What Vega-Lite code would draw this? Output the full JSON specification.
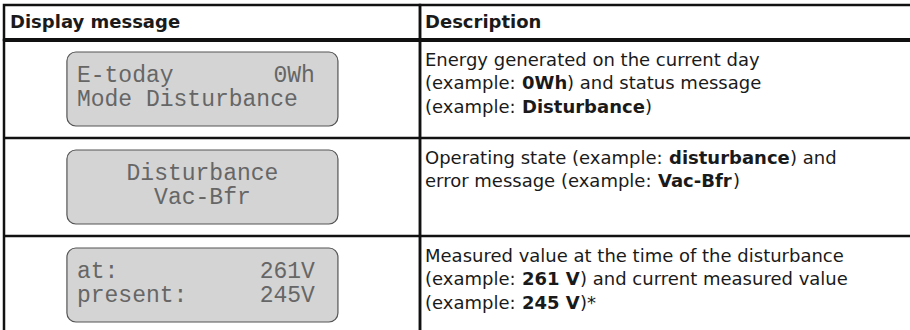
{
  "$schema": "https://vega.github.io/schema/vega-lite/v6.json",
  "background": "white",
  "padding": {"left": 0, "top": 3, "right": 0, "bottom": 0},
  "spacing": 0,
  "bounds": "flush",
  "align": "each",
  "columns": 2,
  "config": {
    "view": {"stroke": "#111111", "strokeWidth": 2.5},
    "text": {"font": "DejaVu Sans", "fontSize": 18, "color": "#1a1a1a"}
  },
  "datasets": {
    "headings": [{"column": "Display message"}, {"column": "Description"}],
    "rows": [{"row": 1}, {"row": 2}, {"row": 3}],
    "display": [
      {"row": 1, "line": 1, "part": "left", "text": "E-today"},
      {"row": 1, "line": 1, "part": "right", "text": "0Wh"},
      {"row": 1, "line": 2, "part": "left", "text": "Mode Disturbance"},
      {"row": 2, "line": 1, "part": "center", "text": "Disturbance"},
      {"row": 2, "line": 2, "part": "center", "text": "Vac-Bfr"},
      {"row": 3, "line": 1, "part": "left", "text": "at:"},
      {"row": 3, "line": 1, "part": "right", "text": "261V"},
      {"row": 3, "line": 2, "part": "left", "text": "present:"},
      {"row": 3, "line": 2, "part": "right", "text": "245V"}
    ],
    "description": [
      {"row": 1, "line": 1, "start": 5, "text": "Energy generated on the current day", "emphasis": false},
      {"row": 1, "line": 2, "start": 5, "text": "(example: ", "emphasis": false},
      {"row": 1, "line": 2, "start": 102, "text": "0Wh", "emphasis": true},
      {"row": 1, "line": 2, "start": 147, "text": ") and status message", "emphasis": false},
      {"row": 1, "line": 3, "start": 5, "text": "(example: ", "emphasis": false},
      {"row": 1, "line": 3, "start": 102, "text": "Disturbance", "emphasis": true},
      {"row": 1, "line": 3, "start": 225, "text": ")", "emphasis": false},
      {"row": 2, "line": 1, "start": 5, "text": "Operating state (example: ", "emphasis": false},
      {"row": 2, "line": 1, "start": 249, "text": "disturbance", "emphasis": true},
      {"row": 2, "line": 1, "start": 370, "text": ") and", "emphasis": false},
      {"row": 2, "line": 2, "start": 5, "text": "error message (example: ", "emphasis": false},
      {"row": 2, "line": 2, "start": 238, "text": "Vac-Bfr", "emphasis": true},
      {"row": 2, "line": 2, "start": 313, "text": ")", "emphasis": false},
      {"row": 3, "line": 1, "start": 5, "text": "Measured value at the time of the disturbance", "emphasis": false},
      {"row": 3, "line": 2, "start": 5, "text": "(example: ", "emphasis": false},
      {"row": 3, "line": 2, "start": 102, "text": "261 V", "emphasis": true},
      {"row": 3, "line": 2, "start": 160, "text": ") and current measured value", "emphasis": false},
      {"row": 3, "line": 3, "start": 5, "text": "(example: ", "emphasis": false},
      {"row": 3, "line": 3, "start": 102, "text": "245 V", "emphasis": true},
      {"row": 3, "line": 3, "start": 160, "text": ")*", "emphasis": false}
    ]
  },
  "concat": [
    {
      "width": 416, "height": 35,
      "data": {"name": "headings"},
      "transform": [{"filter": "datum.column === 'Display message'"}],
      "layer": [
        {
          "mark": {"type": "text", "align": "left", "baseline": "middle", "fontWeight": "bold", "dx": 6},
          "encoding": {
            "x": {"field": "column", "type": "nominal", "bandPosition": 0, "axis": null, "scale": {"type": "band", "paddingInner": 0, "paddingOuter": 0}},
            "y": {"field": "column", "type": "nominal", "axis": null, "scale": {"type": "band", "paddingInner": 0, "paddingOuter": 0}},
            "text": {"field": "column"}
          }
        },
        {
          "mark": {"type": "rule", "strokeWidth": 4, "color": "#111111"},
          "encoding": {
            "y": {"field": "column", "type": "nominal", "bandPosition": 1, "axis": null, "scale": {"type": "band", "paddingInner": 0, "paddingOuter": 0}}
          }
        }
      ]
    },
    {
      "width": 492, "height": 35,
      "data": {"name": "headings"},
      "transform": [{"filter": "datum.column === 'Description'"}],
      "layer": [
        {
          "mark": {"type": "text", "align": "left", "baseline": "middle", "fontWeight": "bold", "dx": 5},
          "encoding": {
            "x": {"field": "column", "type": "nominal", "bandPosition": 0, "axis": null, "scale": {"type": "band", "paddingInner": 0, "paddingOuter": 0}},
            "y": {"field": "column", "type": "nominal", "axis": null, "scale": {"type": "band", "paddingInner": 0, "paddingOuter": 0}},
            "text": {"field": "column"}
          }
        },
        {
          "mark": {"type": "rule", "strokeWidth": 4, "color": "#111111"},
          "encoding": {
            "y": {"field": "column", "type": "nominal", "bandPosition": 1, "axis": null, "scale": {"type": "band", "paddingInner": 0, "paddingOuter": 0}}
          }
        }
      ]
    },
    {
      "width": 416, "height": 294,
      "encoding": {
        "y": {"field": "row", "type": "ordinal", "axis": null, "scale": {"type": "band", "paddingInner": 0, "paddingOuter": 0}}
      },
      "layer": [
        {
          "data": {"name": "rows"},
          "mark": {"type": "rect", "fill": "#d4d4d4", "stroke": "#555555", "strokeWidth": 1.2, "cornerRadius": 9, "height": {"band": 0.755}},
          "encoding": {
            "x": {"datum": "display", "type": "nominal", "axis": null, "scale": {"type": "band", "paddingInner": 0, "paddingOuter": 0.2675, "align": 0.434}}
          }
        },
        {
          "data": {"name": "display"},
          "transform": [{"filter": "datum.part === 'left' && datum.line === 1"}],
          "mark": {"type": "text", "font": "Liberation Mono", "fontSize": 23, "color": "#666666", "align": "left", "baseline": "middle", "dx": 10},
          "encoding": {
            "x": {"datum": "display", "type": "nominal", "bandPosition": 0, "axis": null},
            "y": {"field": "row", "type": "ordinal", "bandPosition": 0.36, "axis": null},
            "text": {"field": "text"}
          }
        },
        {
          "data": {"name": "display"},
          "transform": [{"filter": "datum.part === 'left' && datum.line === 2"}],
          "mark": {"type": "text", "font": "Liberation Mono", "fontSize": 23, "color": "#666666", "align": "left", "baseline": "middle", "dx": 10},
          "encoding": {
            "x": {"datum": "display", "type": "nominal", "bandPosition": 0, "axis": null},
            "y": {"field": "row", "type": "ordinal", "bandPosition": 0.6, "axis": null},
            "text": {"field": "text"}
          }
        },
        {
          "data": {"name": "display"},
          "transform": [{"filter": "datum.part === 'right' && datum.line === 1"}],
          "mark": {"type": "text", "font": "Liberation Mono", "fontSize": 23, "color": "#666666", "align": "right", "baseline": "middle", "dx": -23},
          "encoding": {
            "x": {"datum": "display", "type": "nominal", "bandPosition": 1, "axis": null},
            "y": {"field": "row", "type": "ordinal", "bandPosition": 0.36, "axis": null},
            "text": {"field": "text"}
          }
        },
        {
          "data": {"name": "display"},
          "transform": [{"filter": "datum.part === 'right' && datum.line === 2"}],
          "mark": {"type": "text", "font": "Liberation Mono", "fontSize": 23, "color": "#666666", "align": "right", "baseline": "middle", "dx": -23},
          "encoding": {
            "x": {"datum": "display", "type": "nominal", "bandPosition": 1, "axis": null},
            "y": {"field": "row", "type": "ordinal", "bandPosition": 0.6, "axis": null},
            "text": {"field": "text"}
          }
        },
        {
          "data": {"name": "display"},
          "transform": [{"filter": "datum.part === 'center' && datum.line === 1"}],
          "mark": {"type": "text", "font": "Liberation Mono", "fontSize": 23, "color": "#666666", "align": "center", "baseline": "middle"},
          "encoding": {
            "x": {"datum": "display", "type": "nominal", "bandPosition": 0.5, "axis": null},
            "y": {"field": "row", "type": "ordinal", "bandPosition": 0.36, "axis": null},
            "text": {"field": "text"}
          }
        },
        {
          "data": {"name": "display"},
          "transform": [{"filter": "datum.part === 'center' && datum.line === 2"}],
          "mark": {"type": "text", "font": "Liberation Mono", "fontSize": 23, "color": "#666666", "align": "center", "baseline": "middle"},
          "encoding": {
            "x": {"datum": "display", "type": "nominal", "bandPosition": 0.5, "axis": null},
            "y": {"field": "row", "type": "ordinal", "bandPosition": 0.6, "axis": null},
            "text": {"field": "text"}
          }
        },
        {
          "data": {"name": "rows"},
          "mark": {"type": "rule", "strokeWidth": 2.5, "color": "#111111"},
          "encoding": {
            "y": {"field": "row", "type": "ordinal", "bandPosition": 0, "axis": null}
          }
        }
      ]
    },
    {
      "width": 492, "height": 294,
      "data": {"name": "description"},
      "encoding": {
        "x": {"field": "start", "type": "quantitative", "axis": null, "scale": {"domain": [0, 492], "nice": false, "zero": true}},
        "y": {"field": "row", "type": "ordinal", "axis": null, "scale": {"type": "band", "paddingInner": 0, "paddingOuter": 0}},
        "text": {"field": "text"}
      },
      "layer": [
        {
          "data": {"name": "rows"},
          "mark": {"type": "rule", "strokeWidth": 2.5, "color": "#111111"},
          "encoding": {
            "x": null,
            "text": null,
            "y": {"field": "row", "type": "ordinal", "bandPosition": 0, "axis": null}
          }
        },
        {
          "transform": [{"filter": "!datum.emphasis && datum.line === 1"}],
          "mark": {"type": "text", "align": "left", "baseline": "alphabetic"},
          "encoding": {"y": {"field": "row", "type": "ordinal", "bandPosition": 0.262, "axis": null}}
        },
        {
          "transform": [{"filter": "!datum.emphasis && datum.line === 2"}],
          "mark": {"type": "text", "align": "left", "baseline": "alphabetic"},
          "encoding": {"y": {"field": "row", "type": "ordinal", "bandPosition": 0.502, "axis": null}}
        },
        {
          "transform": [{"filter": "!datum.emphasis && datum.line === 3"}],
          "mark": {"type": "text", "align": "left", "baseline": "alphabetic"},
          "encoding": {"y": {"field": "row", "type": "ordinal", "bandPosition": 0.742, "axis": null}}
        },
        {
          "transform": [{"filter": "datum.emphasis && datum.line === 1"}],
          "mark": {"type": "text", "align": "left", "baseline": "alphabetic", "fontWeight": "bold"},
          "encoding": {"y": {"field": "row", "type": "ordinal", "bandPosition": 0.262, "axis": null}}
        },
        {
          "transform": [{"filter": "datum.emphasis && datum.line === 2"}],
          "mark": {"type": "text", "align": "left", "baseline": "alphabetic", "fontWeight": "bold"},
          "encoding": {"y": {"field": "row", "type": "ordinal", "bandPosition": 0.502, "axis": null}}
        },
        {
          "transform": [{"filter": "datum.emphasis && datum.line === 3"}],
          "mark": {"type": "text", "align": "left", "baseline": "alphabetic", "fontWeight": "bold"},
          "encoding": {"y": {"field": "row", "type": "ordinal", "bandPosition": 0.742, "axis": null}}
        }
      ]
    }
  ]
}
